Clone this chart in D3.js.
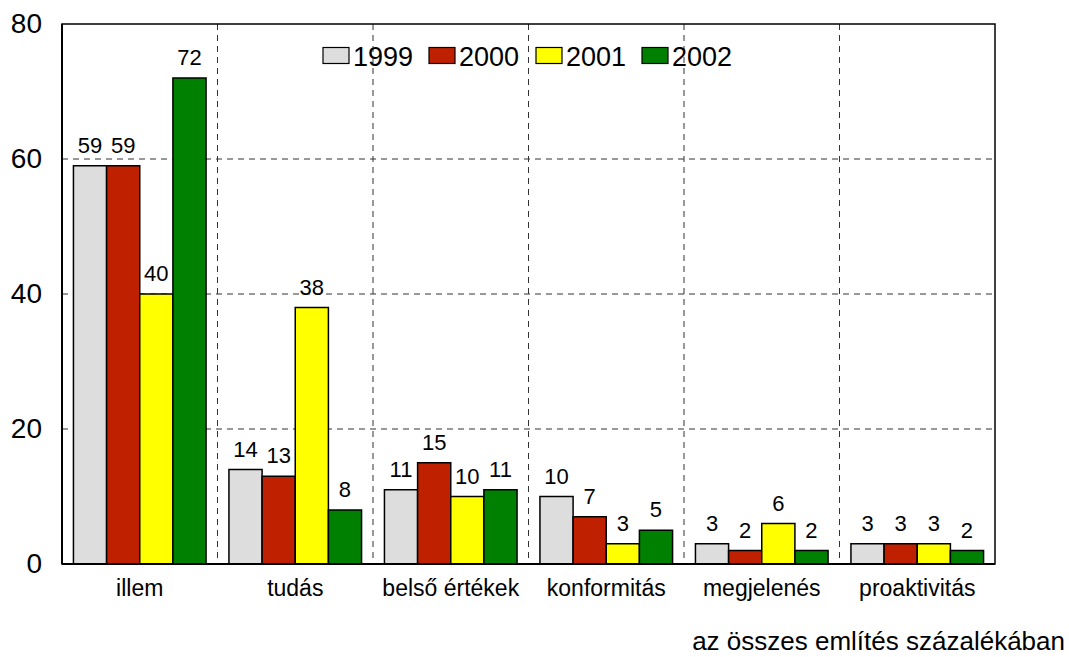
<!DOCTYPE html>
<html><head><meta charset="utf-8">
<script src="https://cdn.jsdelivr.net/npm/d3@7"></script>
<style>body{margin:0;background:#fff}svg{display:block;font-family:"Liberation Sans",Arial,sans-serif}</style>
</head><body><svg id="c" width="1069" height="657"></svg>
<script>
const categories = ["illem","tudás","belső értékek","konformitás","megjelenés","proaktivitás"];
const seriesNames = ["1999","2000","2001","2002"];
const v1999 = [59,14,11,10,3,3];
const v2000 = [59,13,15,7,2,3];
const v2001 = [40,38,10,3,6,3];
const v2002 = [72,8,11,5,2,2];
const yTicks = [0,20,40,60,80];
const colors = ["#DDDDDD","#BF2000","#FFFF00","#008000"];
const footer = "az összes említés százalékában";

const values = [v1999,v2000,v2001,v2002];
const svg = d3.select("#c");
const L=62,R=995,T=24,B=564;
const x0 = d3.scaleBand().domain(categories).range([L,R]).padding(0);
const x1 = d3.scaleBand().domain(seriesNames).range([0,x0.bandwidth()]).paddingInner(0).paddingOuter(0.345);
const y = d3.scaleLinear().domain([0,80]).range([B,T]);

// gridlines
const g = svg.append("g");
g.selectAll(".hg").data(yTicks.filter(t=>t>0&&t<80)).join("line")
  .attr("x1",L).attr("x2",R).attr("y1",d=>y(d)).attr("y2",d=>y(d))
  .attr("stroke","#333").attr("stroke-width",1).attr("stroke-dasharray","6,5");
g.selectAll(".vg").data(categories.slice(1)).join("line")
  .attr("x1",d=>x0(d)).attr("x2",d=>x0(d)).attr("y1",T).attr("y2",B)
  .attr("stroke","#333").attr("stroke-width",1).attr("stroke-dasharray","6,5");

// bars
categories.forEach((c,ci)=>{
  seriesNames.forEach((s,si)=>{
    const v = values[si][ci];
    const bx = x0(c)+x1(s);
    svg.append("rect").attr("x",bx).attr("y",y(v)).attr("width",x1.bandwidth()).attr("height",B-y(v))
      .attr("fill",colors[si]).attr("stroke","#000").attr("stroke-width",1.5);
    svg.append("text").attr("x",bx+x1.bandwidth()/2).attr("y",y(v)-13).attr("text-anchor","middle")
      .attr("font-size",22).text(v);
  });
});

// frame
svg.append("rect").attr("x",L).attr("y",T).attr("width",R-L).attr("height",B-T)
  .attr("fill","none").attr("stroke","#000").attr("stroke-width",1.5);
svg.append("line").attr("x1",L).attr("x2",L).attr("y1",T).attr("y2",B).attr("stroke","#000").attr("stroke-width",2);
svg.append("line").attr("x1",L).attr("x2",R).attr("y1",B).attr("y2",B).attr("stroke","#000").attr("stroke-width",2);

// y axis labels
const ya = svg.append("g").attr("transform",`translate(${L},0)`).call(d3.axisLeft(y).tickValues(yTicks).tickSize(0).tickPadding(20));
ya.select(".domain").remove();
ya.selectAll("text").attr("font-size",28).attr("font-family","Liberation Sans, Arial, sans-serif").attr("fill","#000");

// x axis labels
const xa = svg.append("g").attr("transform",`translate(0,${B})`).call(d3.axisBottom(x0).tickSize(0).tickPadding(16));
xa.select(".domain").remove();
xa.selectAll("text").attr("font-size",23).attr("font-family","Liberation Sans, Arial, sans-serif").attr("fill","#000");

// legend
const legX = [323,429,536,642];
const lg = svg.append("g");
seriesNames.forEach((s,i)=>{
  lg.append("rect").attr("x",legX[i]).attr("y",47.5).attr("width",26).attr("height",16)
    .attr("fill",colors[i]).attr("stroke","#000").attr("stroke-width",1.2);
  lg.append("text").attr("x",legX[i]+30).attr("y",65.5).attr("font-size",27).text(s);
});

svg.append("text").attr("x",1065).attr("y",650).attr("text-anchor","end").attr("font-size",26).text(footer);
</script></body></html>
